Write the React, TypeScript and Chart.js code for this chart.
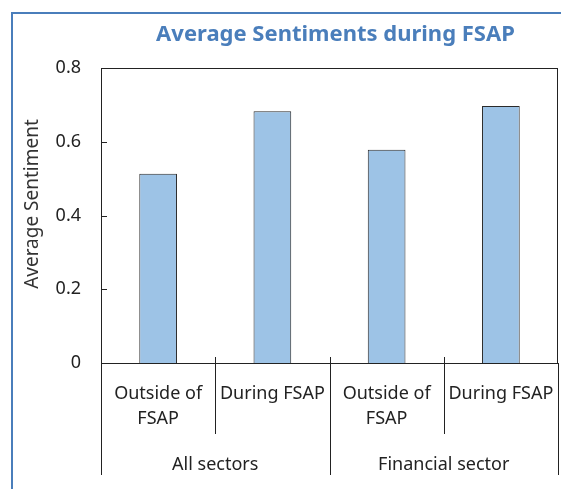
import React, { useEffect, useRef } from "react";
import { Chart, registerables } from "chart.js";

Chart.register(...registerables);

const subLabels: string[][] = [["Outside of", "FSAP"], ["During FSAP"], ["Outside of", "FSAP"], ["During FSAP"]];
const groupLabels: string[] = ["All sectors", "Financial sector"];
const groupSizes: number[] = [2, 2];
const values: number[] = [0.513, 0.683, 0.578, 0.697];
const yTicks: number[] = [0, 0.2, 0.4, 0.6, 0.8];
const titleText = "Average Sentiments during FSAP";
const yTitle = "Average Sentiment";

const FONT = "'Noto Sans', 'Open Sans', sans-serif";

export default function App() {
  const ref = useRef<HTMLCanvasElement | null>(null);
  useEffect(() => {
    if (!ref.current) return;
    const drawPlugin = {
      id: "custom",
      afterDraw(chart: any) {
        const ctx = chart.ctx;
        const ca = chart.chartArea;
        const x = chart.scales.x;
        const y = chart.scales.y;
        ctx.save();
        // title
        ctx.fillStyle = "#4A7EBB";
        ctx.font = `bold 22px ${FONT}`;
        ctx.textAlign = "center";
        ctx.textBaseline = "middle";
        ctx.fillText(titleText, (ca.left + ca.right) / 2 + 6, 35);
        // y axis title
        ctx.save();
        ctx.translate(33, 204);
        ctx.rotate(-Math.PI / 2);
        ctx.fillStyle = "#333";
        ctx.font = `19px ${FONT}`;
        ctx.fillText(yTitle, 0, 0);
        ctx.restore();
        // plot border
        ctx.strokeStyle = "#222";
        ctx.lineWidth = 1;
        ctx.strokeRect(Math.round(ca.left) + 0.5, Math.round(ca.top) + 0.5, Math.round(ca.right - ca.left) - 1, Math.round(ca.bottom - ca.top));
        // y ticks inward
        yTicks.forEach((t) => {
          const py = Math.round(y.getPixelForValue(t)) + 0.5;
          ctx.beginPath();
          ctx.moveTo(ca.left, py);
          ctx.lineTo(ca.left + 6, py);
          ctx.stroke();
        });
        // x labels
        const n = subLabels.length;
        const step = (ca.right - ca.left) / n;
        ctx.fillStyle = "#222";
        ctx.font = `18px ${FONT}`;
        subLabels.forEach((lines, i) => {
          const cx = x.getPixelForValue(i);
          lines.forEach((ln, j) => {
            ctx.fillText(ln, cx, 394 + j * 25);
          });
        });
        // separators
        const bottom = Math.round(ca.bottom);
        let idx = 0;
        const boundaries: number[] = [0];
        groupSizes.forEach((s) => {
          idx += s;
          boundaries.push(idx);
        });
        for (let k = 0; k <= n; k++) {
          const px = Math.round(ca.left + k * step) + 0.5;
          const isGroup = boundaries.includes(k);
          const edge = k === 0 || k === n;
          ctx.beginPath();
          ctx.moveTo(px, edge ? bottom : bottom - 6);
          ctx.lineTo(px, isGroup ? 475 : 434);
          ctx.stroke();
        }
        // group labels
        let start = 0;
        groupLabels.forEach((g, gi) => {
          const s = groupSizes[gi];
          const cx = ca.left + (start + s / 2) * step;
          ctx.fillText(g, cx, 465);
          start += s;
        });
        ctx.restore();
      },
    };
    const chart = new Chart(ref.current, {
      type: "bar",
      data: {
        labels: subLabels.map((l) => l.join(" ")),
        datasets: [
          {
            data: values,
            backgroundColor: "#9DC3E6",
            borderColor: "#2a2a2a",
            borderWidth: 1,
            categoryPercentage: 1,
            barPercentage: 0.33,
          },
        ],
      },
      options: {
        animation: false,
        responsive: false,
        maintainAspectRatio: false,
        layout: { padding: { left: 0, right: 3, top: 68, bottom: 0 } },
        plugins: { legend: { display: false }, tooltip: { enabled: false }, title: { display: false } },
        scales: {
          x: {
            grid: { display: false },
            border: { display: false },
            ticks: { display: false },
            afterFit: (s: any) => {
              s.height = 126;
            },
          },
          y: {
            min: 0,
            max: 0.8,
            afterBuildTicks: (s: any) => {
              s.ticks = yTicks.map((v) => ({ value: v }));
            },
            grid: { display: false },
            border: { display: false },
            ticks: {
              color: "#222",
              font: { family: FONT, size: 18 },
              padding: 12,
              callback: (v: any) => (v === 0 ? "0" : Number(v).toFixed(1)),
            },
            title: { display: false },
            afterFit: (s: any) => {
              s.width = 101;
            },
          },
        },
      },
      plugins: [drawPlugin],
    });
    return () => chart.destroy();
  }, []);
  return (
    <div style={{ position: "fixed", left: 0, top: 0, width: 561, height: 489, overflow: "hidden", background: "#fff" }}>
      <div style={{ position: "absolute", left: 11, top: 12, width: 700, height: 700, border: "2px solid #4A7EBB", boxSizing: "border-box" }} />
      <canvas ref={ref} width={561} height={489} style={{ position: "absolute", left: 0, top: 0 }} />
    </div>
  );
}
